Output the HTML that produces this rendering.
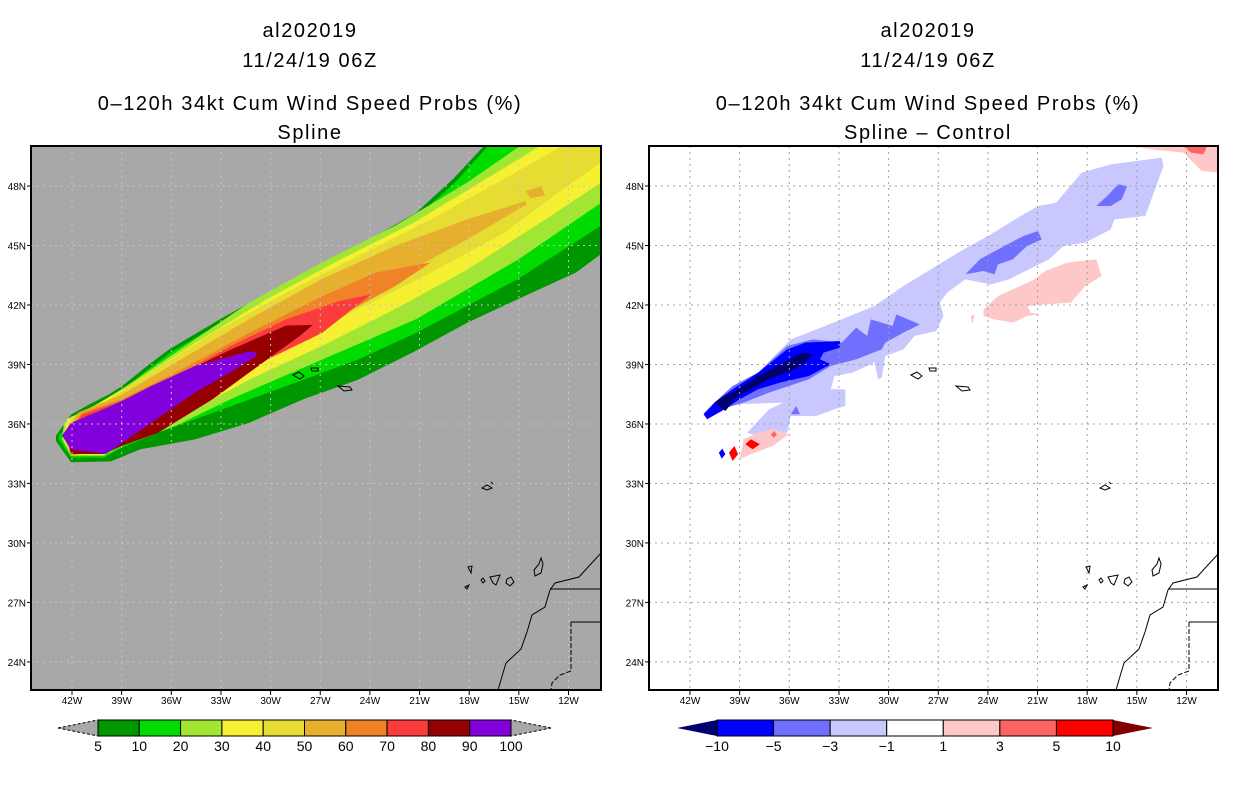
<!DOCTYPE html>
<html><head><meta charset="utf-8">
<style>
html,body{margin:0;padding:0;background:#fff;}
svg{display:block;font-family:"Liberation Sans",sans-serif;}
.t{font-size:20px;letter-spacing:1.6px;text-anchor:middle;fill:#000;}
.tk{font-size:10px;fill:#000;}
.cb{font-size:14px;text-anchor:middle;fill:#000;}
</style></head>
<body>
<svg id="root" width="1236" height="800" viewBox="0 0 1236 800">
  <rect width="1236" height="800" fill="#fff"/>
  <g>
    <text class="t" x="310" y="37">al202019</text>
    <text class="t" x="310" y="67">11/24/19 06Z</text>
    <text class="t" x="310" y="110">0–120h 34kt Cum Wind Speed Probs (%)</text>
    <text class="t" x="310" y="139">Spline</text>
  </g>
  <g>
    <text class="t" x="928" y="37">al202019</text>
    <text class="t" x="928" y="67">11/24/19 06Z</text>
    <text class="t" x="928" y="110">0–120h 34kt Cum Wind Speed Probs (%)</text>
    <text class="t" x="928" y="139">Spline – Control</text>
  </g>

  <defs>
    <clipPath id="clipL"><rect x="31" y="146" width="570" height="544"/></clipPath>
    <clipPath id="clipR"><rect x="649" y="146" width="569" height="544"/></clipPath>
  </defs>

  <g clip-path="url(#clipL)">
    <rect x="31" y="146" width="570" height="544" fill="#a8a8a8"/>
    <g id="leftContours" transform="translate(0,146) scale(1,0.9167) translate(0,-146)"></g>
    <g id="leftGrid"></g>
    <g id="leftLand"></g>
  </g>
  <rect x="31" y="146" width="570" height="544" fill="none" stroke="#000" stroke-width="2"/>

  <g clip-path="url(#clipR)">
    <rect x="649" y="146" width="569" height="544" fill="#fff"/>
    <g id="rightContours" transform="translate(649,146) scale(0.3636,0.3333)"></g>
    <g id="rightGrid"></g>
    <g id="rightLand"></g>
  </g>
  <rect x="649" y="146" width="569" height="544" fill="none" stroke="#000" stroke-width="2"/>

  <g id="axes"></g>
  <g id="leftBar"></g>
  <g id="rightBar"></g>
</svg>
<script>
// ---- data ----
const lonTicks = [-42,-39,-36,-33,-30,-27,-24,-21,-18,-15,-12];
const lonLabels = ["42W","39W","36W","33W","30W","27W","24W","21W","18W","15W","12W"];
const latTicks = [48,45,42,39,36,33,30,27,24];
const latLabels = ["48N","45N","42N","39N","36N","33N","30N","27N","24N"];
const probLevels = [5,10,20,30,40,50,60,70,80,90,100];
const probColors = ["#009600","#00dc00","#a0e632","#f5f032","#e6dc32","#e6af2d","#f08228","#fa3c3c","#960000","#8200dc"];
const diffLevels = [-10,-5,-3,-1,1,3,5,10];
const diffColors = ["#0000ff","#7070ff","#c8c8ff","#ffffff","#ffc8c8","#ff6464","#ff0000"];
const diffLowColor = "#00006e", diffHighColor = "#800000";

const probShapes = [
 [0,"56,462 71,439 89,428 109,417 122,408 147,386 169,368 220,335 286,295 358,255 416,219 453,182 484,146 601,146 601,264 576,284 518,313 467,339 413,371 358,401 304,422 249,448 195,466 140,477 111,490 71,491 56,468"],
 [1,"59,462 73,442 91,431 111,420 124,411 149,389 171,371 222,338 288,298 360,258 418,222 455,186 488,146 601,146 601,233 518,291 416,350 358,379 286,408 213,437 158,459 122,475 104,486 71,486 59,466"],
 [2,"64,448 89,433 122,411 176,371 249,317 322,273 395,233 467,186 520,146 601,146 601,208 518,270 416,335 322,379 231,422 176,451 122,473 104,484 71,484 62,466"],
 [3,"67,444 93,430 129,408 195,361 267,313 340,270 413,230 486,182 540,146 601,146 601,186 540,230 467,281 395,324 322,364 249,401 176,444 122,470 104,483 71,483 63,465"],
 [4,"71,442 104,426 140,401 213,350 286,306 358,266 431,226 504,182 562,146 601,146 601,164 558,197 504,241 431,284 358,324 286,364 213,408 158,448 122,466 104,482 71,482 64,464"],
 [5,"78,437 122,417 176,382 249,335 322,291 395,255 467,226 526,206 526,210 467,248 395,291 322,335 249,379 176,430 122,462 104,477 71,484 64,463"],
 [5,"526,195 541,190 545,200 530,203"],
 [6,"82,437 122,422 176,393 249,350 322,310 376,284 431,273 395,299 322,342 249,386 176,437 122,466 104,479 71,482 65,462"],
 [7,"82,439 122,424 176,397 231,364 286,335 340,315 371,308 322,350 267,379 213,415 158,451 122,471 104,481 71,481 66,462"],
 [8,"86,441 122,426 176,397 231,368 286,342 313,341 300,353 267,379 213,422 158,459 122,473 104,482 71,482 67,462"],
 [9,"71,448 104,433 122,424 151,408 195,386 249,370 256,371 256,375 235,390 195,415 151,448 118,473 106,482 71,477 62,462"]
];
const diffShapes = [
 [2,"150,800 230,720 300,680 390,580 530,520 620,480 700,420 850,320 940,265 1030,205 1070,180 1120,170 1190,80 1270,55 1410,35 1415,60 1365,210 1280,220 1270,250 1200,290 1140,300 1100,340 990,400 940,415 870,400 820,440 800,470 810,510 790,555 730,570 700,610 650,630 640,695 630,700 620,650 560,680 510,690 500,730 540,730 540,780 510,790 460,810 390,810 380,860 300,870 270,860 330,790 370,770 230,775 180,800 160,820"],
 [1,"180,770 230,720 300,680 380,600 450,580 530,590 570,545 600,570 610,520 670,540 680,505 745,535 700,560 650,590 640,610 570,640 500,660 440,700 330,740 260,770 200,790"],
 [1,"870,385 910,340 960,310 1030,270 1070,255 1080,280 1040,300 1000,340 960,355 950,385 920,375"],
 [1,"1230,180 1260,150 1290,115 1315,120 1300,160 1270,180"],
 [1,"390,805 405,780 415,805"],
 [0,"150,805 180,770 230,730 300,680 380,610 430,590 525,585 525,605 480,620 470,640 500,655 440,690 360,710 300,730 250,760 200,795 160,820"],
 [-1,"180,770 205,750 230,740 300,690 370,650 420,620 450,625 430,650 400,670 330,700 280,730 240,755 210,795"],
 [4,"920,490 960,450 1000,430 1060,400 1090,375 1150,350 1230,340 1245,390 1200,420 1160,470 1090,475 1040,480 1050,500 1075,505 1040,510 1000,530 950,520 920,510"],
 [4,"885,510 895,505 890,535"],
 [4,"1330,0 1568,0 1568,80 1520,75 1470,20 1380,10"],
 [5,"1470,0 1535,0 1525,25 1490,20"],
 [4,"250,940 260,880 300,860 340,850 385,865 340,900 280,925"],
 [5,"335,865 345,855 352,868 342,875"],
 [6,"265,895 280,880 305,895 285,910"],
 [6,"220,920 235,900 245,925 230,945"],
 [0,"192,920 202,908 210,925 200,938"]
];
const coast = "602,552 589,566 579,577 555,583 550,590 545,607 532,615 527,632 521,649 506,663 503,673 498,690";
const borders = ["550,589 603,589","571,622 603,622"];
const dashedBorder = "571,622 571,671 560,675 552,683 551,690";
const islands = ["293,375 299,372 304,376 300,379","311,368 318,368 318,371 312,371","338,386 350,387 352,390 344,391","482,488 487,485 492,488 487,490","491,482 493,484","468,567 472,566 471,573","481,580 483,578 485,581 483,583","490,577 500,575 496,585 493,583","507,579 511,577 514,582 510,586 506,583","534,570 539,564 541,558 543,564 541,573 535,576","465,587 469,585 467,589"];

function xLon(lon, x0){ return x0 + (lon + 42) * 16.55; }
function yLat(lat){ return 186 + (48 - lat) * 19.83; }
const NS = "http://www.w3.org/2000/svg";
function mk(tag, attrs, parent){ const e=document.createElementNS(NS,tag); for(const k in attrs) e.setAttribute(k,attrs[k]); parent.appendChild(e); return e; }

const lc = document.getElementById("leftContours");
probShapes.forEach(s=>{
  const p = mk("polygon",{points:s[1],fill:probColors[s[0]]},lc);
  
  
});
const rc = document.getElementById("rightContours");
diffShapes.forEach(s=>{
  const col = s[0]<0 ? diffLowColor : diffColors[s[0]];
  const p = mk("polygon",{points:s[1],fill:col},rc);
  
  
});

const axes = document.getElementById("axes");
[[31,601,72,"leftGrid","#c4c4c4"],[649,1218,690,"rightGrid","#a0a0a0"]].forEach(cfg=>{
  const [x1,x2,x0,gid,gc]=cfg; const g=document.getElementById(gid);
  lonTicks.forEach((lon,i)=>{
    const x=xLon(lon, x0);
    mk("line",{x1:x,x2:x,y1:146,y2:690,stroke:gc,"stroke-width":1,"stroke-dasharray":"2,4"},g);
    mk("line",{x1:x,x2:x,y1:690,y2:695,stroke:"#000","stroke-width":1},axes);
    const t=mk("text",{x:x,y:704,class:"tk","text-anchor":"middle"},axes);
    t.textContent=lonLabels[i];
    
    
  });
  latTicks.forEach((lat,i)=>{
    const y=yLat(lat);
    mk("line",{x1:x1,x2:x2,y1:y,y2:y,stroke:gc,"stroke-width":1,"stroke-dasharray":"2,4"},g);
    mk("line",{x1:x1-4,x2:x1,y1:y,y2:y,stroke:"#000","stroke-width":1},axes);
    const t=mk("text",{x:x1-5,y:y+4,class:"tk","text-anchor":"end"},axes);
    t.textContent=latLabels[i];
    
    
  });
});

[["leftLand",0],["rightLand",618]].forEach(([id,dx])=>{
  const g=document.getElementById(id);
  const gg = mk("g",{transform:"translate("+dx+",0)"},g);
  mk("polyline",{points:coast,fill:"none",stroke:"#000","stroke-width":1},gg);
  borders.forEach(b=>mk("polyline",{points:b,fill:"none",stroke:"#000","stroke-width":1},gg));
  mk("polyline",{points:dashedBorder,fill:"none",stroke:"#000","stroke-width":1,"stroke-dasharray":"5,2"},gg);
  islands.forEach(s=>mk("polygon",{points:s,fill:"none",stroke:"#000","stroke-width":1},gg));
});

function colorbar(gid, levels, colors, x0, x1, lowCol, highCol, triStroke){
  const g=document.getElementById(gid);
  const y0=720, y1=736, ym=728;
  const w=(x1-x0)/colors.length;
  const xs = v => x0 + levels.indexOf(v)*w;
  mk("polygon",{points:`${x0-40},${ym} ${x0},${y0} ${x0},${y1}`,fill:lowCol,stroke:triStroke,"stroke-dasharray":triStroke==="#000"?"3,2":"none"},g);
  mk("polygon",{points:`${x1+40},${ym} ${x1},${y0} ${x1},${y1}`,fill:highCol,stroke:triStroke,"stroke-dasharray":triStroke==="#000"?"3,2":"none"},g);
  colors.forEach((c,i)=>{
    const r=mk("rect",{x:xs(levels[i]),y:y0,width:w,height:y1-y0,fill:c,stroke:"#000","stroke-width":1},g);
    
    
  });
  levels.forEach(v=>{
    const t=mk("text",{x:xs(v),y:751,class:"cb"},g);
    t.textContent = v<0 ? "−"+Math.abs(v) : String(v);
    
    
  });
}
colorbar("leftBar", probLevels, probColors, 98, 511, "#a8a8a8", "#a8a8a8", "#000");
colorbar("rightBar", diffLevels, diffColors, 717, 1113, diffLowColor, diffHighColor, "none");
</script>
</body></html>
